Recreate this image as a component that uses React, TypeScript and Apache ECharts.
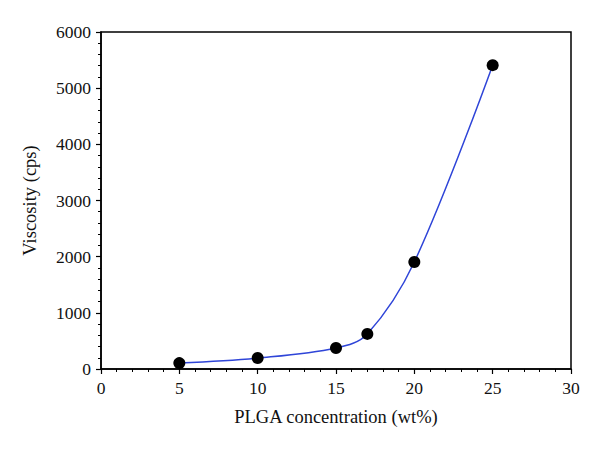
import React, { useEffect, useRef } from "react";
import * as echarts from "echarts";

const concentration = [5, 10, 15, 17, 20, 25];
const viscosity = [105, 195, 375, 625, 1905, 5410];
const xTicks = [0, 30, 5];
const yTicks = [0, 6000, 1000];

export default function App() {
  const ref = useRef<HTMLDivElement>(null);
  useEffect(() => {
    const chart = echarts.init(ref.current!, null, { renderer: "svg" });
    const data = concentration.map((c, i) => [c, viscosity[i]]);
    const font = "'Liberation Serif', 'DejaVu Serif', serif";
    chart.setOption({
      animation: false,
      backgroundColor: "#ffffff",
      grid: {
        left: 93,
        right: 21,
        top: 24,
        bottom: 74,
        show: true,
        borderColor: "#000",
        borderWidth: 1.5,
        backgroundColor: "transparent",
      },
      xAxis: {
        type: "value",
        min: xTicks[0],
        max: xTicks[1],
        interval: xTicks[2],
        name: "PLGA concentration (wt%)",
        nameLocation: "middle",
        nameGap: 38,
        nameTextStyle: { fontFamily: font, fontSize: 18.5, color: "#111" },
        axisLine: { show: true, lineStyle: { color: "#000", width: 1.5 } },
        axisTick: { show: true, inside: false, length: 5, lineStyle: { color: "#000", width: 1.2 } },
        minorTick: { show: true, splitNumber: 5, length: 3, lineStyle: { color: "#000", width: 1 } },
        axisLabel: { fontFamily: font, fontSize: 17.5, color: "#111", margin: 10 },
        splitLine: { show: false },
      },
      yAxis: {
        type: "value",
        min: yTicks[0],
        max: yTicks[1],
        interval: yTicks[2],
        name: "Viscosity (cps)",
        nameLocation: "middle",
        nameGap: 62,
        nameRotate: 90,
        nameTextStyle: { fontFamily: font, fontSize: 18.5, color: "#111" },
        axisLine: { show: true, lineStyle: { color: "#000", width: 1.5 } },
        axisTick: { show: true, inside: false, length: 5, lineStyle: { color: "#000", width: 1.2 } },
        minorTick: { show: true, splitNumber: 5, length: 3, lineStyle: { color: "#000", width: 1 } },
        axisLabel: {
          fontFamily: font,
          fontSize: 17.5,
          color: "#111",
          margin: 10,
          formatter: (v: number) => String(v),
        },
        splitLine: { show: false },
      },
      series: [
        {
          type: "line",
          data,
          smooth: 0.35,
          symbol: "circle",
          symbolSize: 12,
          itemStyle: { color: "#000" },
          lineStyle: { color: "#2f45d8", width: 1.5 },
        },
      ],
    });
    return () => chart.dispose();
  }, []);
  return <div ref={ref} style={{ width: 584, height: 435 }} />;
}
